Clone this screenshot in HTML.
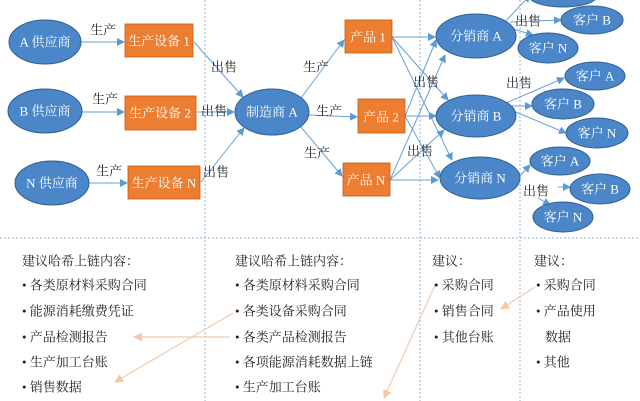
<!DOCTYPE html>
<html><head><meta charset="utf-8"><style>
html,body{margin:0;padding:0;background:#fff;width:640px;height:401px;overflow:hidden}
svg text{font-family:"Liberation Serif","Noto Serif CJK SC",serif}
</style></head><body>
<svg width="640" height="401" viewBox="0 0 640 401" xmlns="http://www.w3.org/2000/svg">
<defs>
<marker id="a" markerWidth="8" markerHeight="8" refX="7" refY="4" orient="auto" markerUnits="userSpaceOnUse"><path d="M0,0 L8,4 L0,8 z" fill="#5b9bd5"/></marker>
<marker id="o" markerWidth="9" markerHeight="9" refX="8" refY="4.5" orient="auto" markerUnits="userSpaceOnUse"><path d="M0,0 L9,4.5 L0,9 z" fill="#f4c9a8"/></marker>
</defs>
<g stroke="#8fb3d9" stroke-width="1" stroke-dasharray="2,2" fill="none">
<line x1="205" y1="0" x2="205" y2="401"/>
<line x1="420" y1="0" x2="420" y2="401"/>
<line x1="520" y1="0" x2="520" y2="401"/>
<line x1="0" y1="238" x2="640" y2="238"/>
</g>
<g stroke="#6a9fd6" stroke-width="1" fill="none" marker-end="url(#a)">
<line x1="81" y1="42" x2="124" y2="42"/>
<line x1="82" y1="112" x2="124" y2="112"/>
<line x1="89" y1="183" x2="127" y2="183"/>
<line x1="194" y1="42" x2="243" y2="97"/>
<line x1="197" y1="112" x2="234" y2="112"/>
<line x1="201" y1="182" x2="244" y2="128"/>
<line x1="301" y1="98" x2="344" y2="40"/>
<line x1="309" y1="115" x2="357" y2="117"/>
<line x1="301" y1="127" x2="342" y2="176"/>
<line x1="392" y1="37" x2="435" y2="37"/>
<line x1="392" y1="37" x2="448" y2="100"/>
<line x1="392" y1="37" x2="452" y2="160"/>
<line x1="405" y1="116" x2="436" y2="116"/>
<line x1="405" y1="116" x2="436" y2="40"/>
<line x1="405" y1="116" x2="440" y2="178"/>
<line x1="390" y1="180" x2="438" y2="180"/>
<line x1="390" y1="180" x2="445" y2="55"/>
<line x1="390" y1="180" x2="444" y2="130"/>
<line x1="505" y1="22" x2="530" y2="-5"/>
<line x1="510" y1="22" x2="561" y2="20"/>
<line x1="510" y1="28" x2="533" y2="35"/>
<line x1="506" y1="103" x2="564" y2="78"/>
<line x1="511" y1="106" x2="532" y2="106"/>
<line x1="506" y1="108" x2="566" y2="133"/>
<line x1="518" y1="178" x2="530" y2="165"/>
<line x1="558" y1="187" x2="570" y2="187"/>
<line x1="538" y1="198" x2="550" y2="205"/>
</g>
<g stroke="#f4c9a8" stroke-width="1.2" fill="none" marker-end="url(#o)">
<line x1="230" y1="337" x2="134" y2="337"/>
<line x1="233" y1="313" x2="115" y2="382"/>
<line x1="436" y1="283" x2="384" y2="398"/>
<line x1="535" y1="287" x2="501" y2="309"/>
</g>
<g fill="#4a86c8" stroke="#2f5f94" stroke-width="1">
<ellipse cx="45" cy="42" rx="36" ry="22"/>
<ellipse cx="45" cy="111" rx="37" ry="22"/>
<ellipse cx="52" cy="183" rx="37" ry="22"/>
<ellipse cx="272" cy="112" rx="37" ry="23"/>
<ellipse cx="476" cy="36" rx="40" ry="22"/>
<ellipse cx="476" cy="116" rx="40" ry="21"/>
<ellipse cx="480" cy="178" rx="40" ry="21"/>
<ellipse cx="563" cy="-4" rx="34" ry="11"/>
<ellipse cx="592" cy="20" rx="31" ry="14"/>
<ellipse cx="548" cy="48" rx="30" ry="15"/>
<ellipse cx="595" cy="76" rx="30" ry="14"/>
<ellipse cx="563" cy="104" rx="31" ry="15"/>
<ellipse cx="597" cy="133" rx="31" ry="15"/>
<ellipse cx="560" cy="161" rx="30" ry="14"/>
<ellipse cx="600" cy="189" rx="30" ry="15"/>
<ellipse cx="563" cy="217" rx="30" ry="15"/>
</g>
<g fill="#ed7d31" stroke="#c55a11" stroke-width="0.8">
<rect x="125" y="24" width="68" height="33"/>
<rect x="125" y="96" width="71" height="34"/>
<rect x="128" y="166" width="72" height="33"/>
<rect x="345" y="20" width="47" height="33"/>
<rect x="358" y="99" width="47" height="34"/>
<rect x="343" y="163" width="47" height="33"/>
</g>
<g fill="#fff" font-size="13" text-anchor="middle" dominant-baseline="central">
<text x="45" y="42">A 供应商</text>
<text x="45" y="111">B 供应商</text>
<text x="52" y="183">N 供应商</text>
<text x="272" y="112">制造商 A</text>
<text x="476" y="36">分销商 A</text>
<text x="476" y="116">分销商 B</text>
<text x="480" y="178">分销商 N</text>
<text x="592" y="20">客户 B</text>
<text x="548" y="48">客户 N</text>
<text x="595" y="76">客户 A</text>
<text x="563" y="104">客户 B</text>
<text x="597" y="133">客户 N</text>
<text x="560" y="161">客户 A</text>
<text x="600" y="189">客户 B</text>
<text x="563" y="217">客户 N</text>
<text x="159" y="41">生产设备 1</text>
<text x="160" y="113">生产设备 2</text>
<text x="164" y="183">生产设备 N</text>
<text x="368" y="37">产品 1</text>
<text x="381" y="117">产品 2</text>
<text x="366" y="180">产品 N</text>
</g>
<g fill="#222" font-size="13" dominant-baseline="central">
<text x="90" y="30">生产</text>
<text x="92" y="99">生产</text>
<text x="96" y="171">生产</text>
<text x="211" y="67">出售</text>
<text x="201" y="111">出售</text>
<text x="203" y="172">出售</text>
<text x="303" y="67">生产</text>
<text x="316" y="111">生产</text>
<text x="304" y="153">生产</text>
<text x="413" y="82">出售</text>
<text x="407" y="151">出售</text>
<text x="515" y="21">出售</text>
<text x="506" y="83">出售</text>
<text x="523" y="191">出售</text>
</g>
<g fill="#222" font-size="13" dominant-baseline="central">
<text x="22" y="261">建议哈希上链内容：</text>
<text x="22" y="285">• 各类原材料采购合同</text>
<text x="22" y="311">• 能源消耗缴费凭证</text>
<text x="22" y="337">• 产品检测报告</text>
<text x="22" y="362">• 生产加工台账</text>
<text x="22" y="387">• 销售数据</text>
<text x="235" y="261">建议哈希上链内容：</text>
<text x="235" y="285">• 各类原材料采购合同</text>
<text x="235" y="311">• 各类设备采购合同</text>
<text x="235" y="337">• 各类产品检测报告</text>
<text x="235" y="362">• 各项能源消耗数据上链</text>
<text x="235" y="387">• 生产加工台账</text>
<text x="432" y="261">建议：</text>
<text x="434" y="285">• 采购合同</text>
<text x="434" y="311">• 销售合同</text>
<text x="434" y="337">• 其他台账</text>
<text x="534" y="261">建议：</text>
<text x="536" y="285">• 采购合同</text>
<text x="536" y="311">• 产品使用</text>
<text x="545" y="337">数据</text>
<text x="536" y="362">• 其他</text>
</g>
</svg>
</body></html>
